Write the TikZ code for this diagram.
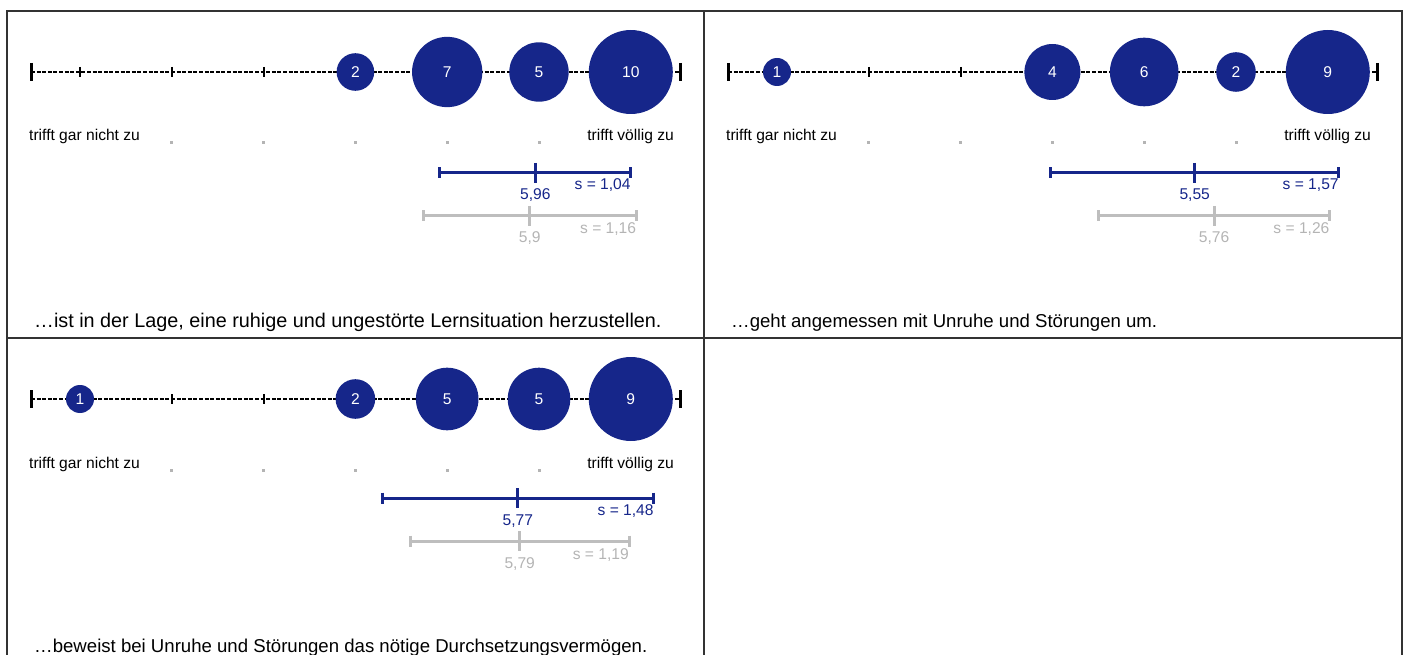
\documentclass[tikz,border=0pt]{standalone}
\usepackage{fontspec}
\setmainfont{Liberation Sans}
\usepackage{xcolor}
\usepackage{tikz}
\definecolor{umfrageblau}{RGB}{22,38,138}
\definecolor{vergleichgrau}{RGB}{190,190,190}
\definecolor{punktgrau}{RGB}{180,180,180}
\tikzstyle{bubble} = [circle, fill=umfrageblau, inner sep=0pt, text=white, node distance=91.8pt]
\tikzstyle{skala} = [draw, black, line width=2pt, dash pattern=on 4pt off 1.6pt]
\tikzstyle{endstrich} = [draw, black, line width=3pt]
\tikzstyle{strich} = [draw, black, line width=2.2pt]
\tikzstyle{balken} = [draw, umfrageblau, line width=3pt]
\tikzstyle{vergleich} = [draw, vergleichgrau, line width=3pt]
\tikzstyle{pol} = [inner sep=0pt]
\tikzstyle{satz} = [inner sep=0pt, anchor=base west]
\tikzstyle{mittel} = [inner sep=0pt, anchor=base, text=umfrageblau]
\tikzstyle{mittelgrau} = [inner sep=0pt, anchor=base, text=punktgrau]
\tikzstyle{streuung} = [inner sep=0pt, anchor=base east, text=umfrageblau]
\tikzstyle{streuunggrau} = [inner sep=0pt, anchor=base east, text=punktgrau]
\tikzstyle{rahmen} = [draw, black!80, line width=1.5pt]

\begin{document}
\begin{tikzpicture}[x=1pt, y=-1pt, font=\fontsize{15.6pt}{18pt}\selectfont]
	\useasboundingbox (0,0) rectangle (1406,655);
	
	% Rahmen
	\coordinate (eckeoben) at (7,11);
	\coordinate (eckeunten) at (1402,670);
	\path [rahmen] (eckeoben) rectangle (eckeunten);
	\path [rahmen] (704,11)--(704,670);
	\path [rahmen] (7,338)--(1402,338);
	
	
	% ...ist in der Lage
	\coordinate (lageanfang) at (31,72);
	\coordinate (lageende) at (680,72);
	\path [skala] (lageanfang)--(lageende);
	\path [endstrich] ([yshift=9pt]lageanfang)--([yshift=-9pt]lageanfang);
	\path [endstrich] ([yshift=9pt]lageende)--([yshift=-9pt]lageende);
	\foreach \x in {80,171.8,263.6,355.4,447.2,539,630.8}
		\path [strich] (\x,67)--(\x,77);
	\foreach \x in {171.8,263.6,355.4,447.2,539}
		\fill [punktgrau] (\x-1.5,141.5) rectangle (\x+1.5,144.5);
	
	\node [pol, anchor=base west] (lagenicht) at (29,141) {trifft gar nicht zu};
	\node [pol, anchor=base east] (lagevoellig) at (674,141) {trifft völlig zu};
	
	\node [bubble, minimum size=37.6pt] (lagevier) at (355.4,72) {2};
	\node [bubble, minimum size=70.3pt, right of=lagevier] (lagefuenf) {7};
	\node [bubble, minimum size=59.4pt, right of=lagefuenf] (lagesechs) {5};
	\node [bubble, minimum size=84pt, right of=lagesechs] (lagesieben) {10};
	
	\coordinate (lagemin) at (439.9,173);
	\coordinate (lagemitte) at (535.3,173);
	\coordinate (lagemax) at (630.8,173);
	\path [balken] (lagemin)--(lagemax);
	\path [balken] ([yshift=5.5pt]lagemin)--([yshift=-5.5pt]lagemin);
	\path [balken] ([yshift=5.5pt]lagemax)--([yshift=-5.5pt]lagemax);
	\path [balken] ([yshift=10pt]lagemitte)--([yshift=-10pt]lagemitte);
	\node [mittel] (lagemittel) at (535.3,200) {5,96};
	\node [streuung] (lages) at (630.8,190) {s = 1,04};
	
	\coordinate (lagegraumin) at (423.3,216);
	\coordinate (lagegraumitte) at (529.8,216);
	\coordinate (lagegraumax) at (636.3,216);
	\path [vergleich] (lagegraumin)--(lagegraumax);
	\path [vergleich] ([yshift=5.5pt]lagegraumin)--([yshift=-5.5pt]lagegraumin);
	\path [vergleich] ([yshift=5.5pt]lagegraumax)--([yshift=-5.5pt]lagegraumax);
	\path [vergleich] ([yshift=10pt]lagegraumitte)--([yshift=-10pt]lagegraumitte);
	\node [mittelgrau] (lagegraumittel) at (529.8,243) {5,9};
	\node [streuunggrau] (lagegraus) at (636.3,234) {s = 1,16};
	
	\node [satz, font=\fontsize{19.8pt}{23pt}\selectfont] (lagesatz) at (34,327) {…ist in der Lage, eine ruhige und ungestörte Lernsituation herzustellen.};
	
	
	% ...geht angemessen mit Unruhe um
	\begin{scope}[xshift=697pt]
	\coordinate (umganganfang) at (31,72);
	\coordinate (umgangende) at (680,72);
	\path [skala] (umganganfang)--(umgangende);
	\path [endstrich] ([yshift=9pt]umganganfang)--([yshift=-9pt]umganganfang);
	\path [endstrich] ([yshift=9pt]umgangende)--([yshift=-9pt]umgangende);
	\foreach \x in {80,171.8,263.6,355.4,447.2,539,630.8}
		\path [strich] (\x,67)--(\x,77);
	\foreach \x in {171.8,263.6,355.4,447.2,539}
		\fill [punktgrau] (\x-1.5,141.5) rectangle (\x+1.5,144.5);
	
	\node [pol, anchor=base west] (umgangnicht) at (29,141) {trifft gar nicht zu};
	\node [pol, anchor=base east] (umgangvoellig) at (674,141) {trifft völlig zu};
	
	\node [bubble, minimum size=28pt] (umgangeins) at (80,72) {1};
	\node [bubble, minimum size=56pt] (umgangvier) at (355.4,72) {4};
	\node [bubble, minimum size=68.6pt, right of=umgangvier] (umgangfuenf) {6};
	\node [bubble, minimum size=39.6pt, right of=umgangfuenf] (umgangsechs) {2};
	\node [bubble, minimum size=84pt, right of=umgangsechs] (umgangsieben) {9};
	
	\coordinate (umgangmin) at (353.6,173);
	\coordinate (umgangmitte) at (497.7,173);
	\coordinate (umgangmax) at (641.8,173);
	\path [balken] (umgangmin)--(umgangmax);
	\path [balken] ([yshift=5.5pt]umgangmin)--([yshift=-5.5pt]umgangmin);
	\path [balken] ([yshift=5.5pt]umgangmax)--([yshift=-5.5pt]umgangmax);
	\path [balken] ([yshift=10pt]umgangmitte)--([yshift=-10pt]umgangmitte);
	\node [mittel] (umgangmittel) at (497.7,200) {5,55};
	\node [streuung] (umgangs) at (641.8,190) {s = 1,57};
	
	\coordinate (umganggraumin) at (401.3,216);
	\coordinate (umganggraumitte) at (517,216);
	\coordinate (umganggraumax) at (632.6,216);
	\path [vergleich] (umganggraumin)--(umganggraumax);
	\path [vergleich] ([yshift=5.5pt]umganggraumin)--([yshift=-5.5pt]umganggraumin);
	\path [vergleich] ([yshift=5.5pt]umganggraumax)--([yshift=-5.5pt]umganggraumax);
	\path [vergleich] ([yshift=10pt]umganggraumitte)--([yshift=-10pt]umganggraumitte);
	\node [mittelgrau] (umganggraumittel) at (517,243) {5,76};
	\node [streuunggrau] (umganggraus) at (632.6,234) {s = 1,26};
	
	\node [satz, font=\fontsize{18.6pt}{22pt}\selectfont] (umgangsatz) at (34,327) {…geht angemessen mit Unruhe und Störungen um.};
	\end{scope}
	
	
	% ...beweist Durchsetzungsvermoegen
	\begin{scope}[yshift=-327pt]
	\coordinate (durchanfang) at (31,72);
	\coordinate (durchende) at (680,72);
	\path [skala] (durchanfang)--(durchende);
	\path [endstrich] ([yshift=9pt]durchanfang)--([yshift=-9pt]durchanfang);
	\path [endstrich] ([yshift=9pt]durchende)--([yshift=-9pt]durchende);
	\foreach \x in {80,171.8,263.6,355.4,447.2,539,630.8}
		\path [strich] (\x,67)--(\x,77);
	\foreach \x in {171.8,263.6,355.4,447.2,539}
		\fill [punktgrau] (\x-1.5,141.5) rectangle (\x+1.5,144.5);
	
	\node [pol, anchor=base west] (durchnicht) at (29,141) {trifft gar nicht zu};
	\node [pol, anchor=base east] (durchvoellig) at (674,141) {trifft völlig zu};
	
	\node [bubble, minimum size=28pt] (durcheins) at (80,72) {1};
	\node [bubble, minimum size=39.6pt] (durchvier) at (355.4,72) {2};
	\node [bubble, minimum size=62.6pt, right of=durchvier] (durchfuenf) {5};
	\node [bubble, minimum size=62.6pt, right of=durchfuenf] (durchsechs) {5};
	\node [bubble, minimum size=84pt, right of=durchsechs] (durchsieben) {9};
	
	\coordinate (durchmin) at (382,171);
	\coordinate (durchmitte) at (517.9,171);
	\coordinate (durchmax) at (653.8,171);
	\path [balken] (durchmin)--(durchmax);
	\path [balken] ([yshift=5.5pt]durchmin)--([yshift=-5.5pt]durchmin);
	\path [balken] ([yshift=5.5pt]durchmax)--([yshift=-5.5pt]durchmax);
	\path [balken] ([yshift=10pt]durchmitte)--([yshift=-10pt]durchmitte);
	\node [mittel] (durchmittel) at (517.9,198) {5,77};
	\node [streuung] (durchs) at (653.8,188) {s = 1,48};
	
	\coordinate (durchgraumin) at (410.5,214);
	\coordinate (durchgraumitte) at (519.7,214);
	\coordinate (durchgraumax) at (629,214);
	\path [vergleich] (durchgraumin)--(durchgraumax);
	\path [vergleich] ([yshift=5.5pt]durchgraumin)--([yshift=-5.5pt]durchgraumin);
	\path [vergleich] ([yshift=5.5pt]durchgraumax)--([yshift=-5.5pt]durchgraumax);
	\path [vergleich] ([yshift=10pt]durchgraumitte)--([yshift=-10pt]durchgraumitte);
	\node [mittelgrau] (durchgraumittel) at (519.7,241) {5,79};
	\node [streuunggrau] (durchgraus) at (629,232) {s = 1,19};
	
	\node [satz, font=\fontsize{18.6pt}{22pt}\selectfont] (durchsatz) at (34,325) {…beweist bei Unruhe und Störungen das nötige Durchsetzungsvermögen.};
	\end{scope}
\end{tikzpicture}
\end{document}
